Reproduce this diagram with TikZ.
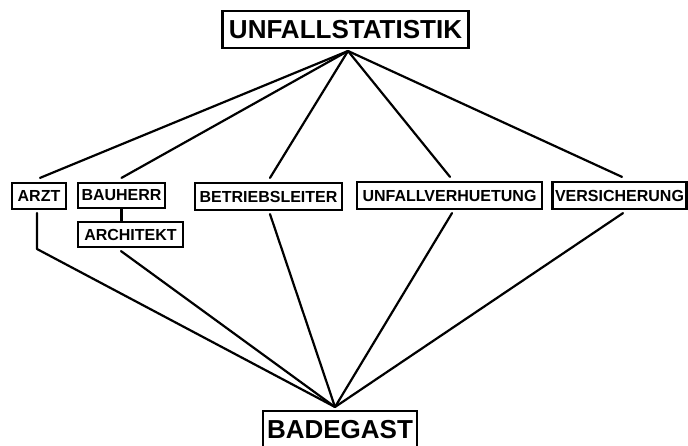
\documentclass[tikz,border=0pt]{standalone}
\usepackage{fontspec}
\setmainfont{Liberation Sans}
\begin{document}
\begin{tikzpicture}[x=1pt,y=-1pt,
  box/.style={draw, line width=2.2pt, inner sep=0pt, font=\bfseries\fontsize{16}{18}\selectfont},
  bigbox/.style={draw, line width=2.4pt, inner sep=0pt, font=\bfseries\fontsize{26}{30}\selectfont},
  conn/.style={line width=2.2pt, line cap=round, line join=round}]
\useasboundingbox (0,0) rectangle (688,446);
\node[bigbox, minimum width=246pt, minimum height=37pt] (top) at (345.5,29.5) {UNFALLSTATISTIK};
\node[box, minimum width=54pt, minimum height=26pt] (arzt) at (39,196) {ARZT};
\node[box, minimum width=87pt, minimum height=25pt] (bauherr) at (121.5,195.5) {BAUHERR};
\node[box, minimum width=105pt, minimum height=25pt] (architekt) at (130.5,234.5) {ARCHITEKT};
\node[box, minimum width=147pt, minimum height=27pt] (betrieb) at (268.5,196.5) {BETRIEBSLEITER};
\node[box, minimum width=185pt, minimum height=27pt] (unfall) at (449.5,195.5) {UNFALLVERHUETUNG};
\node[box, minimum width=134pt, minimum height=27pt] (versich) at (619.5,195.5) {VERSICHERUNG};
\node[bigbox, minimum width=154pt, minimum height=38pt] (badegast) at (340,430) {BADEGAST};
\coordinate (apexT) at (348,51);
\coordinate (apexB) at (335,407);
\coordinate (bend) at (37,249);
% upper connectors
\draw[conn] (apexT) -- ([xshift=1pt,yshift=4pt]arzt.north);
\draw[conn] (apexT) -- ([yshift=4pt]bauherr.north);
\draw[conn] (apexT) -- ([xshift=1.5pt,yshift=4pt]betrieb.north);
\draw[conn] (apexT) -- ([xshift=0.5pt,yshift=4pt]unfall.north);
\draw[conn] (apexT) -- ([xshift=2.5pt,yshift=4pt]versich.north);
% bauherr - architekt
\draw[conn] (bauherr.south) -- (bauherr.south |- architekt.north);
% lower connectors
\draw[conn] ([xshift=-2pt,yshift=-3pt]arzt.south) -- (bend) -- (apexB);
\draw[conn] ([xshift=-9.5pt,yshift=-3pt]architekt.south) -- (apexB);
\draw[conn] ([xshift=1.5pt,yshift=-3pt]betrieb.south) -- (apexB);
\draw[conn] ([xshift=2.5pt,yshift=-3pt]unfall.south) -- (apexB);
\draw[conn] ([xshift=3.5pt,yshift=-3pt]versich.south) -- (apexB);
\end{tikzpicture}
\end{document}
